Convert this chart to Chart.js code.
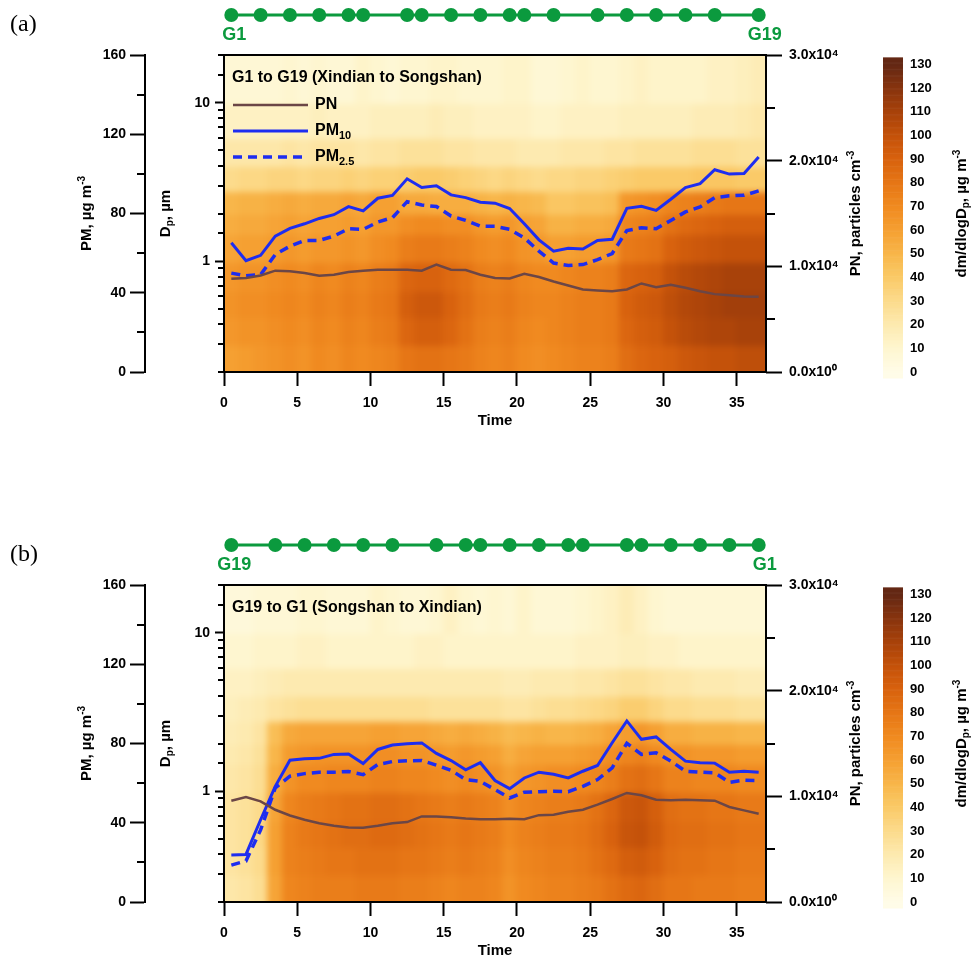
<!DOCTYPE html>
<html>
<head>
<meta charset="utf-8">
<script src="https://cdn.jsdelivr.net/npm/chart.js@4.4.1/dist/chart.umd.min.js"></script>
<style>
  html, body { margin: 0; padding: 0; background: #fff; overflow: hidden; }
  .panel { position: absolute; left: 0; width: 974px; height: 431px; }
  #panelA { top: 0; }
  #panelB { top: 530px; }
</style>
</head>
<body>
<div class="panel" id="panelA"><canvas id="chartA" width="974" height="431"></canvas></div>
<div class="panel" id="panelB"><canvas id="chartB" width="974" height="431"></canvas></div>
<script>
// time of each measurement (centre of each 1-unit column)
const timePoints = [0.5, 1.5, 2.5, 3.5, 4.5, 5.5, 6.5, 7.5, 8.5, 9.5, 10.5, 11.5, 12.5, 13.5, 14.5, 15.5, 16.5, 17.5, 18.5,
  19.5, 20.5, 21.5, 22.5, 23.5, 24.5, 25.5, 26.5, 27.5, 28.5, 29.5, 30.5, 31.5, 32.5, 33.5, 34.5, 35.5, 36.5];

// station positions along the time axis
const stationTimesA = [0.5, 2.5, 4.5, 6.5, 8.5, 9.5, 12.5, 13.5, 15.5, 17.5, 19.5, 20.5, 22.5, 25.5, 27.5, 29.5, 31.5, 33.5, 36.5];
const stationTimesB = [0.5, 3.5, 5.5, 7.5, 9.5, 11.5, 14.5, 16.5, 17.5, 19.5, 21.5, 23.5, 24.5, 27.5, 28.5, 30.5, 32.5, 34.5, 36.5];

// (a) G1 -> G19
const pm10A = [65.2, 56.2, 58.9, 68.6, 72.5, 74.8, 77.5, 79.4, 83.5, 81.3, 87.7, 89.1, 97.5, 93.1, 94.0, 89.4, 88.0, 85.7, 85.2,
  82.5, 74.8, 66.7, 61.0, 62.5, 62.1, 66.4, 67.0, 82.6, 83.6, 81.6, 87.2, 93.1, 95.1, 102.1, 99.9, 100.2, 108.5];
const pm25A = [49.9, 48.6, 49.1, 59.3, 63.5, 66.4, 66.4, 68.6, 72.3, 72.0, 75.7, 77.9, 86.0, 84.3, 83.5, 78.7, 76.5, 73.6, 73.5,
  72.0, 67.7, 61.0, 55.0, 53.8, 54.2, 56.7, 59.8, 71.4, 72.8, 72.3, 76.5, 80.8, 83.3, 88.0, 88.9, 89.2, 91.4];
const pnA = [8830, 8890, 9140, 9590, 9530, 9370, 9110, 9210, 9460, 9590, 9680, 9680, 9680, 9590, 10160, 9680, 9650, 9210, 8890,
  8860, 9300, 8990, 8570, 8190, 7810, 7720, 7650, 7810, 8380, 8030, 8260, 7970, 7650, 7370, 7270, 7140, 7110];

// (b) G19 -> G1
const pm10B = [23.7, 24.0, 41.5, 58.4, 71.6, 72.3, 72.5, 74.5, 74.7, 69.9, 77.0, 79.2, 79.9, 80.3, 75.0, 71.4, 66.7, 70.3, 61.3,
  57.2, 62.6, 65.5, 64.5, 62.6, 66.0, 68.9, 80.4, 91.4, 82.1, 83.3, 77.0, 71.1, 70.3, 70.1, 65.5, 66.0, 65.5];
const pm25B = [18.6, 20.7, 36.4, 57.6, 63.5, 64.8, 65.5, 65.5, 65.9, 64.3, 69.4, 70.9, 71.3, 71.4, 69.1, 66.5, 61.8, 60.9, 56.7,
  52.5, 55.4, 55.7, 55.9, 55.7, 58.4, 61.8, 67.7, 80.1, 74.5, 75.3, 71.1, 66.0, 65.5, 65.2, 60.4, 61.5, 61.3];
const pnB = [9590, 9940, 9530, 8730, 8190, 7780, 7460, 7210, 7050, 7020, 7210, 7460, 7560, 8100, 8100, 8030, 7910, 7840, 7840,
  7870, 7840, 8220, 8260, 8540, 8730, 9210, 9750, 10320, 10100, 9680, 9620, 9680, 9620, 9590, 8990, 8670, 8350];

// size bin edges (um) for the dm/dlogDp map, small to large
const dpEdges = [0.2, 0.3, 0.45, 0.65, 1.0, 1.5, 2.0, 2.8, 4.0, 6.0, 10, 20];

// dm/dlogDp (ug m-3), one row per size bin, one value per time column
const heatA = [
  [60,62,64, 66,68,66,70,68,72,70,72,74, 80,82,82,80,78, 74,72,74,70,68, 70,72,74,74,76, 84,88,90, 92,96,98,100,100,102,102],
  [64,66,66, 68,70,68,72,70,74,72,76,78, 88,92,92,88,82, 76,74,76,72,70, 72,74,76,76,78, 88,92,94, 100,104,106,108,108,110,110],
  [66,68,68, 70,72,70,74,72,76,74,78,80, 92,96,96,90,84, 78,76,78,74,72, 72,74,76,76,78, 90,94,96, 102,106,108,110,112,112,112],
  [64,66,66, 68,70,68,72,70,74,72,76,78, 88,90,90,86,82, 76,74,76,72,70, 70,72,74,74,76, 88,90,92, 100,104,106,108,110,110,110],
  [58,60,60, 62,64,62,64,64,66,64,68,70, 76,78,78,76,74, 70,68,70,66,64, 60,60,62,62,64, 78,80,82, 90,94,96,98,100,100,100],
  [54,56,56, 58,60,58,60,60,62,60,64,64, 68,70,70,68,68, 64,62,64,60,58, 52,52,54,54,56, 72,74,76, 82,86,88,90,92,92,92],
  [50,52,52, 54,56,54,56,56,58,56,60,60, 56,56,54,54,54, 52,50,52,50,48, 42,42,44,44,46, 64,66,68, 72,74,76,78,80,80,80],
  [30,32,32, 34,34,32,34,34,36,34,36,36, 38,40,40,38,36, 34,32,34,32,30, 32,32,34,34,36, 38,40,40, 40,40,42,42,42,40,40],
  [22,22,22, 22,24,22,24,24,24,22,24,24, 26,26,26,24,24, 22,22,22,20,20, 20,22,22,22,24, 24,26,26, 26,26,28,28,28,26,26],
  [14,14,14, 14,14,14,16,14,14,14,16,16, 16,16,18,16,16, 14,14,14,14,12, 12,14,14,14,14, 16,16,16, 16,16,18,18,18,20,22],
  [8,8,8, 8,10,8,10,8,8,12,10,8, 10,10,12,12,10, 10,10,12,12,8, 8,10,12,10,10, 12,14,12, 12,12,12,14,14,16,18]
];
const heatB = [
  [22,24,28, 58,72,74,76,76,76,78,78,78, 76,76,74,72,74, 74,72,66,70,72, 74,74,76,78,82, 86,88,84, 80,80,78,78,78,76,76],
  [24,26,30, 60,74,76,78,80,80,82,82,82, 80,80,78,76,78, 76,74,68,72,74, 76,76,78,82,86, 92,94,90, 84,82,82,80,80,78,78],
  [24,26,32, 60,74,78,80,82,84,84,86,86, 84,82,80,78,80, 78,76,70,74,76, 78,78,80,84,90, 98,100,94, 86,84,84,82,82,80,80],
  [24,26,30, 58,72,76,78,80,82,82,84,84, 82,80,78,76,78, 76,74,68,72,74, 76,76,78,82,88, 96,98,92, 84,82,82,80,80,78,78],
  [22,24,28, 54,66,70,70,72,72,72,74,74, 72,72,70,68,70, 68,66,60,64,66, 68,68,70,72,76, 82,84,80, 74,74,72,72,72,70,70],
  [20,22,26, 50,62,64,66,66,66,66,68,68, 66,66,64,62,64, 62,60,54,58,60, 60,60,62,64,68, 72,74,70, 66,66,64,64,64,62,62],
  [18,20,24, 46,56,58,58,58,58,58,60,60, 58,58,56,54,56, 54,52,48,50,52, 50,50,52,54,58, 62,64,60, 54,54,52,52,52,50,50],
  [16,18,20, 24,26,28,28,28,28,28,28,28, 28,28,26,26,26, 26,26,24,24,26, 28,28,30,32,34, 38,38,34, 30,30,28,28,28,26,26],
  [14,14,16, 18,20,20,20,20,20,20,20,20, 20,20,20,20,20, 20,20,18,18,20, 20,20,22,22,24, 26,26,24, 22,22,20,20,20,18,18],
  [10,10,12, 12,12,14,14,12,12,12,12,12, 12,14,14,12,12, 12,12,12,12,12, 12,12,14,14,14, 16,16,14, 14,12,12,12,12,12,12],
  [6,6,8, 8,8,10,10,8,8,8,12,10, 8,8,10,14,10, 8,10,8,12,8, 8,8,10,12,14, 18,14,10, 8,8,8,8,8,8,8]
];

// tick labels
const pmLabelValues = [0, 40, 80, 120, 160];
const pnLabelValues = [0, 10000, 20000, 30000];
const dpLabelValues = [1, 10];
const cbTickValues = [0, 10, 20, 30, 40, 50, 60, 70, 80, 90, 100, 110, 120, 130];

const FONT = "'Liberation Sans', Arial, sans-serif";
const GREEN = '#0b9a3e';
const PN_COLOR = '#6b4646';
const PM_COLOR = '#1e2df0';

const cmapStops = [
  [0, [255, 252, 232]], [10, [254, 246, 208]], [20, [253, 234, 176]], [30, [252, 219, 140]],
  [40, [250, 202, 104]], [50, [248, 182, 74]], [60, [245, 160, 50]], [70, [240, 138, 32]],
  [80, [230, 118, 22]], [90, [216, 98, 14]], [100, [196, 82, 10]], [110, [168, 66, 10]],
  [120, [136, 52, 14]], [130, [100, 40, 20]]
];
function cmap(v) {
  v = Math.max(0, Math.min(130, v));
  for (let i = 1; i < cmapStops.length; i++) {
    const [v1, c1] = cmapStops[i];
    const [v0, c0] = cmapStops[i - 1];
    if (v <= v1) {
      const f = (v - v0) / (v1 - v0);
      const c = c0.map((a, k) => Math.round(a + (c1[k] - a) * f));
      return `rgb(${c[0]},${c[1]},${c[2]})`;
    }
  }
  return 'rgb(100,40,20)';
}

// text with sub (1) / superscript (2) parts, centred on x,y
function drawRich(ctx, parts, x, y, size, angle, align) {
  ctx.save();
  ctx.translate(x, y);
  ctx.rotate(angle || 0);
  ctx.textBaseline = 'middle';
  ctx.textAlign = 'left';
  let w = 0;
  parts.forEach(([t, m]) => {
    ctx.font = `bold ${m ? Math.round(size * 0.68) : size}px ${FONT}`;
    w += ctx.measureText(t).width;
  });
  let cx = align === 'left' ? 0 : -w / 2;
  parts.forEach(([t, m]) => {
    ctx.font = `bold ${m ? Math.round(size * 0.68) : size}px ${FONT}`;
    const dy = m === 1 ? size * 0.3 : m === 2 ? -size * 0.35 : 0;
    ctx.fillText(t, cx, dy);
    cx += ctx.measureText(t).width;
  });
  ctx.restore();
}

const tickFont = { family: FONT, size: 14, weight: 'bold' };
const xy = arr => timePoints.map((t, i) => ({ x: t, y: arr[i] }));

function makePanel(p) {
  const minorLen = { pm: 8, dp: 6, pn: 9 };

  const heatPlugin = {
    id: 'heatmap',
    beforeDatasetsDraw(chart) {
      const { ctx, chartArea: a, scales: { x, dp } } = chart;
      const off = document.createElement('canvas');
      off.width = chart.width; off.height = chart.height;
      const oc = off.getContext('2d');
      p.heat.forEach((row, r) => {
        let yb = dp.getPixelForValue(dpEdges[r]);
        let yt = dp.getPixelForValue(dpEdges[r + 1]);
        if (r === 0) yb += 8;
        if (r === p.heat.length - 1) yt -= 8;
        row.forEach((v, c) => {
          let xl = x.getPixelForValue(timePoints[c] - 0.5);
          let xr = x.getPixelForValue(timePoints[c] + 0.5);
          if (c === 0) xl -= 8;
          if (c === row.length - 1) xr += 8;
          oc.fillStyle = cmap(v);
          oc.fillRect(Math.floor(xl), Math.floor(yt), Math.ceil(xr) - Math.floor(xl) + 1, Math.ceil(yb) - Math.floor(yt) + 1);
        });
      });
      ctx.save();
      ctx.beginPath();
      ctx.rect(a.left, a.top, a.width, a.height);
      ctx.clip();
      ctx.filter = 'blur(3px)';
      ctx.drawImage(off, 0, 0);
      ctx.restore();
    }
  };

  const decorPlugin = {
    id: 'decor',
    afterDraw(chart) {
      const { ctx, chartArea: a, scales } = chart;
      const midY = (a.top + a.bottom) / 2;

      // minor ticks
      ctx.save();
      ctx.strokeStyle = '#000';
      ctx.lineWidth = 2;
      ['pm', 'dp', 'pn'].forEach(id => {
        const s = scales[id];
        s.ticks.forEach(t => {
          if (t.label !== '') return;
          const y = Math.round(s.getPixelForValue(t.value));
          ctx.beginPath();
          if (s.position === 'left') { ctx.moveTo(s.right, y); ctx.lineTo(s.right - minorLen[id], y); }
          else { ctx.moveTo(s.left, y); ctx.lineTo(s.left + minorLen[id], y); }
          ctx.stroke();
        });
      });
      // plot frame
      ctx.strokeRect(a.left, a.top, a.width, a.height);
      ctx.restore();

      // colour bar
      const cb = scales.cb;
      ctx.save();
      for (let v = -2.5; v < 133; v += 0.5) {
        const y0 = cb.getPixelForValue(v);
        const y1 = cb.getPixelForValue(v + 0.5);
        ctx.fillStyle = cmap(v + 0.25);
        ctx.fillRect(cb.left + 5, y1, 20, y0 - y1 + 0.6);
      }
      ctx.restore();

      // axis titles
      ctx.fillStyle = '#000';
      drawRich(ctx, [['PM, \u00b5g m', 0], ['-3', 2]], 87, midY, 15, -Math.PI / 2);
      drawRich(ctx, [['D', 0], ['p', 1], [', \u00b5m', 0]], 166, midY, 15, -Math.PI / 2);
      drawRich(ctx, [['PN, particles cm', 0], ['-3', 2]], 856, midY, 15, -Math.PI / 2);
      drawRich(ctx, [['dm/dlogD', 0], ['p', 1], [', \u00b5g m', 0], ['-3', 2]], 962, midY, 15, -Math.PI / 2);

      // panel tag
      ctx.save();
      ctx.font = "24px 'Liberation Serif', 'Times New Roman', serif";
      ctx.textBaseline = 'middle';
      ctx.fillStyle = '#000';
      ctx.fillText(p.tag, 10, 25);
      ctx.restore();

      // stations
      const xs = p.stations.map(t => scales.x.getPixelForValue(t));
      const sy = a.top - 40;
      ctx.save();
      ctx.strokeStyle = GREEN; ctx.fillStyle = GREEN; ctx.lineWidth = 3;
      ctx.beginPath(); ctx.moveTo(xs[0], sy); ctx.lineTo(xs[xs.length - 1], sy); ctx.stroke();
      xs.forEach(px => { ctx.beginPath(); ctx.arc(px, sy, 7, 0, Math.PI * 2); ctx.fill(); });
      ctx.font = `bold 18px ${FONT}`;
      ctx.textAlign = 'center'; ctx.textBaseline = 'middle';
      ctx.fillText(p.ends[0], xs[0] + 3, a.top - 20);
      ctx.fillText(p.ends[1], xs[xs.length - 1] + 6, a.top - 20);
      ctx.restore();

      // in-plot title
      ctx.save();
      ctx.fillStyle = '#000';
      ctx.font = `bold 16px ${FONT}`;
      ctx.textBaseline = 'middle';
      ctx.fillText(p.title, a.left + 8, a.top + 23);
      ctx.restore();

      // legend
      if (p.legend) {
        const rows = [
          { ds: chart.data.datasets[0], parts: [['PN', 0]], dy: 50 },
          { ds: chart.data.datasets[1], parts: [['PM', 0], ['10', 1]], dy: 76 },
          { ds: chart.data.datasets[2], parts: [['PM', 0], ['2.5', 1]], dy: 102 }
        ];
        rows.forEach(r => {
          const y = a.top + r.dy;
          ctx.save();
          ctx.strokeStyle = r.ds.borderColor;
          ctx.lineWidth = r.ds.borderWidth;
          ctx.setLineDash(r.ds.borderDash || []);
          ctx.beginPath(); ctx.moveTo(a.left + 9, y); ctx.lineTo(a.left + 84, y); ctx.stroke();
          ctx.restore();
          ctx.fillStyle = '#000';
          drawRich(ctx, r.parts, a.left + 91, y, 16, 0, 'left');
        });
      }
    }
  };

  return new Chart(document.getElementById(p.canvas), {
    type: 'line',
    data: {
      datasets: [
        { label: 'PN', yAxisID: 'pn', data: xy(p.pn), borderColor: PN_COLOR, borderWidth: 2.5, pointRadius: 0, tension: 0 },
        { label: 'PM10', yAxisID: 'pm', data: xy(p.pm10), borderColor: PM_COLOR, borderWidth: 3, pointRadius: 0, tension: 0 },
        { label: 'PM2.5', yAxisID: 'pm', data: xy(p.pm25), borderColor: PM_COLOR, borderWidth: 3.5, borderDash: [9, 6], pointRadius: 0, tension: 0 }
      ]
    },
    options: {
      responsive: false,
      animation: false,
      layout: { padding: { left: 70, right: 0, top: 55, bottom: 1 } },
      plugins: { legend: { display: false }, tooltip: { enabled: false } },
      scales: {
        x: {
          type: 'linear', position: 'bottom', min: 0, max: 37,
          afterFit: s => { s.height = 58; },
          border: { display: false },
          grid: { drawOnChartArea: false, tickLength: 14, tickWidth: 2, tickColor: '#000' },
          ticks: { stepSize: 5, includeBounds: false, padding: 9, color: '#000', font: tickFont, maxRotation: 0, autoSkip: false },
          title: { display: true, text: 'Time', color: '#000', font: { family: FONT, size: 15, weight: 'bold' }, padding: { top: 0, bottom: 0 } }
        },
        pm: {
          type: 'linear', position: 'left', weight: 2, min: 0, max: 160,
          afterFit: s => { s.width = 75; },
          border: { display: true, color: '#000', width: 2 },
          grid: { drawOnChartArea: false, tickLength: 15, tickWidth: 2, tickColor: c => (c.tick && pmLabelValues.includes(c.tick.value)) ? '#000' : 'rgba(0,0,0,0)' },
          ticks: { stepSize: 20, autoSkip: false, padding: 4, color: '#000', font: tickFont,
            callback: v => pmLabelValues.includes(v) ? String(v) : '' }
        },
        dp: {
          type: 'logarithmic', position: 'left', weight: 1, min: 0.2, max: 20,
          afterFit: s => { s.width = 79; },
          border: { display: false },
          grid: { drawOnChartArea: false, tickLength: 9, tickWidth: 2, tickColor: c => (c.tick && dpLabelValues.some(L => Math.abs(L - c.tick.value) < 1e-9)) ? '#000' : 'rgba(0,0,0,0)' },
          ticks: { autoSkip: false, padding: 5, color: '#000', font: tickFont,
            callback: v => dpLabelValues.some(L => Math.abs(L - v) < 1e-9) ? String(Math.round(v)) : '' }
        },
        pn: {
          type: 'linear', position: 'right', weight: 1, min: 0, max: 30000,
          afterFit: s => { s.width = 112; },
          border: { display: false },
          grid: { drawOnChartArea: false, tickLength: 16, tickWidth: 2, tickColor: c => (c.tick && pnLabelValues.includes(c.tick.value)) ? '#000' : 'rgba(0,0,0,0)' },
          ticks: { stepSize: 5000, autoSkip: false, padding: 7, color: '#000', font: tickFont,
            callback: v => pnLabelValues.includes(v) ? (v / 10000).toFixed(1) + 'x10' + (v === 0 ? '\u2070' : '\u2074') : '' }
        },
        cb: {
          type: 'linear', position: 'right', weight: 2, min: 0, max: 134,
          afterFit: s => { s.width = 96; },
          afterBuildTicks: s => { s.ticks = cbTickValues.map(v => ({ value: v })); },
          border: { display: false },
          grid: { display: false, drawTicks: false },
          ticks: { autoSkip: false, padding: 32, color: '#000', font: { family: FONT, size: 13, weight: 'bold' } }
        }
      }
    },
    plugins: [heatPlugin, decorPlugin]
  });
}

makePanel({ canvas: 'chartA', tag: '(a)', title: 'G1 to G19 (Xindian to Songshan)', stations: stationTimesA, ends: ['G1', 'G19'],
  pm10: pm10A, pm25: pm25A, pn: pnA, heat: heatA, legend: true });
makePanel({ canvas: 'chartB', tag: '(b)', title: 'G19 to G1 (Songshan to Xindian)', stations: stationTimesB, ends: ['G19', 'G1'],
  pm10: pm10B, pm25: pm25B, pn: pnB, heat: heatB, legend: false });
</script>
</body>
</html>
